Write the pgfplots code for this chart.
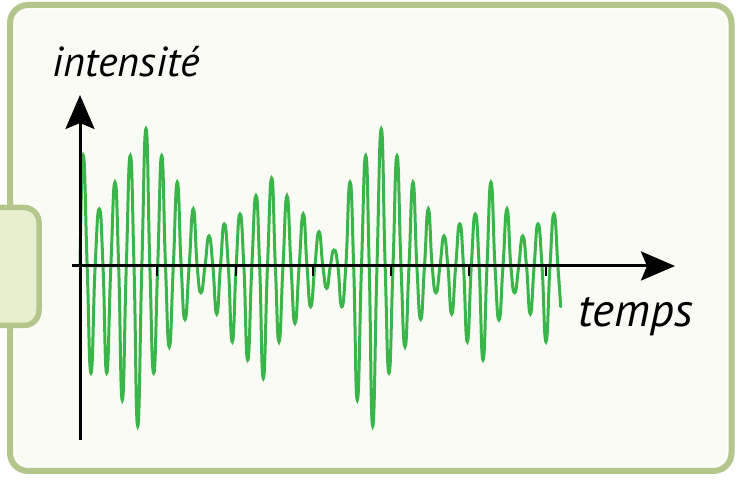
\documentclass[border=0pt]{standalone}
\usepackage{fontspec}
\setmainfont{PT Sans}
\usepackage{pgfplots}
\pgfplotsset{compat=1.18}
\usetikzlibrary{arrows.meta}
\definecolor{wave}{RGB}{57,181,74}
\definecolor{frameb}{RGB}{179,198,140}
\definecolor{cream}{RGB}{250,251,244}
\definecolor{tabfill}{RGB}{231,239,207}
\begin{document}
\begin{tikzpicture}
\fill[white] (0,0) rectangle (737pt,482pt);
\draw[line width=6pt, frameb, fill=cream, rounded corners=18pt] (10pt,11pt) rectangle (731.5pt,477pt);
\draw[white, line width=1.5pt, rounded corners=14pt, opacity=0.9] (14.5pt,15.5pt) rectangle (727pt,472.5pt);
\draw[line width=5.5pt, frameb, fill=tabfill, rounded corners=15pt] (-30pt,156.5pt) rectangle (39pt,274.5pt);
\begin{axis}[
  at={(80pt,216pt)}, anchor=origin,
  x=1pt, y=1pt,
  xmin=-8, xmax=595, ymin=-174, ymax=171,
  axis lines=middle,
  axis on top=true,
  clip=false,
  axis line style={line width=3pt, black, -{Stealth[length=34pt,width=29pt,inset=6pt]}},
  xtick={77,155.7,233,311,389,466},
  xticklabels={},
  ytick=\empty,
  xtick align=outside,
  major tick length=10pt,
  every tick/.style={black, line width=2pt},
]
\addplot[wave, line width=3pt, smooth, tension=0.9, line cap=round] coordinates {
(0,0) (3.3,110.3) (7.15,0) (11,-107) (15.15,0) (19.3,57) (23,0) (26.7,-107)
(30.85,0) (35,83.7) (38.65,0) (42.3,-134) (46.3,0) (50.3,110.3) (54,0) (57.7,-160)
(61.85,0) (66,137) (69.85,0) (73.7,-107) (77.7,0) (81.7,110.3) (85.5,0) (89.3,-80.7)
(93.3,0) (97.3,83.7) (101.15,0) (105,-53.5) (109.15,0) (113.3,57) (117.15,0) (121,-26.7)
(125,0) (129,30) (132.85,0) (136.7,-48) (140.5,0) (144.3,42) (148.3,0) (152.3,-75.7)
(156.15,0) (160,52) (163.85,0) (167.7,-94) (171.85,0) (176,70.3) (179.65,0) (183.3,-112.3)
(187.5,0) (191.7,87.7) (195.35,0) (199,-75.7) (203,0) (207,70) (211,0) (215,-57.3)
(219.15,0) (223.3,52) (227,0) (230.7,-40.7) (234.85,0) (239,34.3) (242.85,0) (246.7,-22.3)
(250.35,0) (254,16) (257.85,0) (261.7,-40.7) (265.85,0) (270,83.7) (273.65,0) (277.3,-134)
(281.5,0) (285.7,110.3) (289.2,0) (292.7,-160) (297,0) (301.3,137) (305.15,0) (309,-107)
(313,0) (317,110.3) (321,0) (325,-80.7) (329,0) (333,83.7) (336.85,0) (340.7,-53.3)
(344.5,0) (348.3,57) (352.15,0) (356,-26.7) (360,0) (364,30) (367.85,0) (371.7,-48)
(375.7,0) (379.7,42) (383.5,0) (387.3,-75.7) (391.3,0) (395.3,52) (399.15,0) (403,-94)
(407,0) (411,83.7) (415,0) (419,-54) (423,0) (427,57) (430.85,0) (434.7,-26.7)
(438.7,0) (442.7,30) (446.5,0) (450.3,-48) (454.15,0) (458,42) (462,0) (466,-75.7)
(470,0) (474,52) (477.9,0) (480.7,-40.7)
};
\end{axis}
\node[anchor=base west, inner sep=0pt, font=\fontsize{42}{50}\selectfont\itshape] at (52pt,405.3pt) {intensité};
\node[anchor=base west, inner sep=0pt, font=\fontsize{47}{56}\selectfont\itshape] at (578pt,155pt) {temps};
\pgfresetboundingbox
\path[use as bounding box] (0,0) rectangle (737pt,482pt);
\end{tikzpicture}
\end{document}
